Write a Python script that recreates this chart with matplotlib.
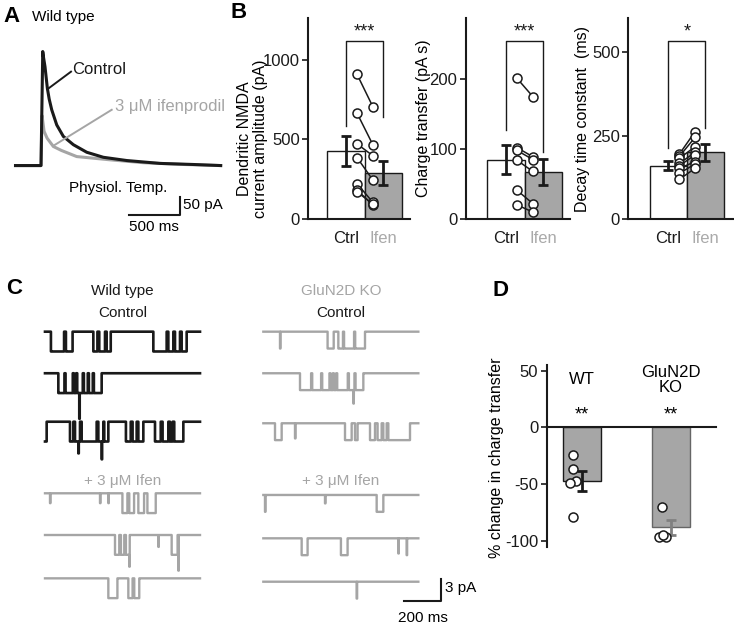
import numpy as np
import matplotlib
matplotlib.use("Agg")
import matplotlib.pyplot as plt

plt.rcParams['font.family'] = ['Liberation Sans', 'DejaVu Sans']
plt.rcParams['axes.unicode_minus'] = False

# ---------------- data ----------------
# Panel A: dendritic NMDA EPSCs (time ms, current pA)
a_ctrl_t = [-250, 0, 17, 25, 39, 62, 80, 105, 154, 219, 317, 448, 611, 840, 1166, 1493, 1761]
a_ctrl_i = [0, 0, 317, 300, 275, 215, 185, 155, 113, 81, 58, 37, 23, 14, 6, 3, 0]
a_ifen_t = [-250, 0, 10, 30, 60, 121, 200, 350, 676, 1000, 1400, 1761]
a_ifen_i = [0, 0, 139, 95, 76, 53, 42, 25, 16, 8, 3, 0]

# Panel B
b_groups = ['Ctrl', 'Ifen']
amp_mean = [428, 289]
amp_sem = [95, 78]
amp_ctrl = [909, 665, 472, 386, 222, 182, 170]
amp_ifen = [706, 467, 398, 245, 105, 88, 95]
q_mean = [85, 67]
q_sem = [21, 19]
q_ctrl = [201, 102, 98, 84, 41, 20]
q_ifen = [175, 89, 85, 68, 22, 10]
tau_mean = [160, 200]
tau_sem = [13, 25]
tau_ctrl = [195, 188, 182, 167, 160, 152, 137, 119]
tau_ifen = [262, 245, 217, 200, 192, 172, 165, 152]
b_stars = ['***', '***', '*']

# Panel C: single-channel records, open intervals (ms) and brief events (ms, level)
wt_ctrl_open = [
    [(32, 103), (113, 149), (261, 283), (293, 324), (333, 355), (585, 657), (666, 693), (702, 729), (738, 765)],
    [(72, 105), (111, 150), (156, 168), (174, 204), (210, 231), (237, 258), (264, 306)],
    [(0, 9), (135, 153), (162, 189), (198, 279), (288, 315), (320, 342), (437, 463), (473, 495),
     (504, 531), (594, 625), (635, 666), (675, 689), (698, 747)],
]
wt_ctrl_spk = [[], [(185, 2.3)], [(180, 1.6), (306, 1.9)]]
wt_ifen_open = [
    [(418, 445), (455, 481), (504, 535), (553, 598)],
    [(378, 401), (410, 428), (437, 455), (684, 716)],
    [(342, 391), (450, 473), (482, 509)],
]
wt_ifen_spk = [[(27, 0.5), (297, 0.5), (342, 0.5)], [(455, 1.6), (612, 0.6), (720, 1.8)], []]
ko_ctrl_open = [
    [(347, 380), (405, 430), (436, 490), (496, 549)],
    [(198, 258), (264, 312), (318, 357), (363, 375), (381, 393), (399, 456), (462, 492), (498, 540)],
    [(63, 99), (441, 477), (495, 509), (576, 603), (617, 639), (648, 666), (675, 792)],
]
ko_ctrl_spk = [[(90, 1.0)], [(486, 1.8)], [(171, 0.9)]]
ko_ifen_open = [[(612, 648)], [(207, 239), (419, 455)], []]
ko_ifen_spk = [[(9, 1.0), (333, 0.5)], [(729, 0.9), (774, 1.0)], [(504, 1.0)]]
rec_dur = 837
wt_unit = 2.7
ko_unit = 2.3

# Panel D
d_groups = ['WT', 'GluN2D\nKO']
d_mean = [-47, -88]
d_sem = [9, 6.5]
d_wt = [-24, -37, -47, -49, -79]
d_ko = [-70, -96.5, -96.5, -95]
d_stars = ['**', '**']

# ---------------- figure ----------------
W, H = 734, 626
fig = plt.figure(figsize=(W / 100, H / 100), dpi=100)

def px_axes(l, t, r, b):
    return fig.add_axes([l / W, 1 - b / H, (r - l) / W, (b - t) / H])

def ftext(x, y, s, **kw):
    fig.text(x / W, 1 - y / H, s, **kw)

BLACK = '#1a1a1a'
GRAY = '#a5a5a5'
BARGRAY = '#a6a6a6'

# panel letters
for (x, y, s) in [(3, 17, 'A'), (231, 12, 'B'), (6, 289, 'C'), (493, 290, 'D')]:
    ftext(x, y, s, fontsize=16, fontweight='bold', va='center', ha='left')

# ---------------- Panel A ----------------
axA = px_axes(10, 40, 232, 235)
axA.set_xlim(-304, 1872)
axA.set_ylim(-193, 349)
axA.axis('off')
axA.plot(a_ifen_t, a_ifen_i, color=GRAY, lw=2.2, solid_joinstyle='round')
axA.plot(a_ctrl_t, a_ctrl_i, color=BLACK, lw=2.2, solid_joinstyle='round')
axA.plot([62, 294], [212, 261], color=BLACK, lw=1.4)
axA.text(305, 266, 'Control', fontsize=12, va='center', ha='left', color=BLACK)
axA.plot([121, 693], [55, 155], color=GRAY, lw=1.4)
axA.text(725, 164, '3 \u03bcM ifenprodil', fontsize=12, va='center', ha='left', color=GRAY)
axA.plot([860, 1360, 1360], [-137, -137, -87], color=BLACK, lw=1.5, clip_on=False)
axA.text(1392, -110, '50 pA', fontsize=11, va='center', ha='left')
axA.text(1110, -172, '500 ms', fontsize=11, va='center', ha='center')
axA.text(755, -62, 'Physiol. Temp.', fontsize=11, va='center', ha='center')
ftext(32, 17, 'Wild type', fontsize=11, va='center', ha='left')

# ---------------- Panel B ----------------
def style_axes(ax):
    for s in ['top', 'right']:
        ax.spines[s].set_visible(False)
    for s in ['left', 'bottom']:
        ax.spines[s].set_linewidth(1.5)
        ax.spines[s].set_color(BLACK)
    ax.tick_params(axis='y', direction='out', length=4, width=1.2, labelsize=12, pad=2, colors=BLACK)

def bar_panel(ax, means, sems, ctrl, ifen, ylim, yticks, xlim, ylabel, lab_xy, star, br_top, br_legs):
    style_axes(ax)
    ax.set_xlim(*xlim)
    ax.set_ylim(*ylim)
    ax.set_yticks(yticks)
    ax.bar([0, 1], means, width=1.0, color=['white', BARGRAY], edgecolor=BLACK, linewidth=1.0, zorder=1)
    ax.errorbar([0, 1], means, yerr=sems, fmt='none', ecolor=BLACK, elinewidth=2, capsize=3.5,
                capthick=2, zorder=3)
    for c, i in zip(ctrl, ifen):
        ax.plot([0.3, 0.72], [c, i], color=BLACK, lw=1.1, marker='o', mfc='white', mec=BLACK,
                ms=6.5, mew=1.1, zorder=4)
    ax.set_xticks([0, 1])
    ax.set_xticklabels(b_groups, fontsize=12)
    ax.tick_params(axis='x', length=0, pad=9)
    ax.get_xticklabels()[0].set_color(BLACK)
    ax.get_xticklabels()[1].set_color('#aaaaaa')
    ax.set_ylabel(ylabel, fontsize=11.5, linespacing=1.1)
    ax.yaxis.set_label_coords(*lab_xy)
    ax.plot([0, 0, 1, 1], [br_legs[0], br_top, br_top, br_legs[1]], color=BLACK, lw=1.0, zorder=2)
    ax.text(0.5, br_top, star, ha='center', va='bottom', fontsize=13, color=BLACK)

axB1 = px_axes(308, 18.3, 410, 219)
bar_panel(axB1, amp_mean, amp_sem, amp_ctrl, amp_ifen, (0, 1262), [0, 500, 1000], (-1.008, 1.71),
          'Dendritic NMDA\ncurrent amplitude (pA)', (-0.39, 0.40), b_stars[0], 1121, (585, 643))
axB2 = px_axes(465.7, 18.3, 570, 219)
bar_panel(axB2, q_mean, q_sem, q_ctrl, q_ifen, (0, 287), [0, 100, 200], (-1.07, 1.71),
          'Charge transfer (pA s)', (-0.33, 0.5), b_stars[1], 255, (127, 96))
axB3 = px_axes(628.3, 18.3, 733, 219)
bar_panel(axB3, tau_mean, tau_sem, tau_ctrl, tau_ifen, (0, 602), [0, 250, 500], (-1.075, 1.74),
          'Decay time constant  (ms)', (-0.37, 0.5), b_stars[2], 534, (212, 272))

# ---------------- Panel C ----------------
axC = px_axes(40, 275, 450, 615)
axC.set_xlim(-27, 2187)
axC.set_ylim(-38.64, 7.73)
axC.axis('off')

def build_trace(opens, spikes, dur, dt=0.5):
    t = np.arange(0, dur + dt, dt)
    lev = np.zeros_like(t)
    for s, e in opens:
        lev[(t >= s) & (t < e)] = 1.0
    for ts, d in spikes:
        lev[(t >= ts) & (t < ts + 2.5)] = d
    return t, lev

row_base_wt = [0, -5.67, -12.28, -22.04, -27.73, -33.64]
row_base_ko = [0, -5.67, -12.49, -22.27, -28.18, -34.1]
ko_x0 = 1179

groups = [
    (wt_ctrl_open + wt_ifen_open, wt_ctrl_spk + wt_ifen_spk, 0, row_base_wt, wt_unit,
     [BLACK] * 3 + [GRAY] * 3),
    (ko_ctrl_open + ko_ifen_open, ko_ctrl_spk + ko_ifen_spk, ko_x0, row_base_ko, ko_unit, [GRAY] * 6),
]
for opens_l, spk_l, x0, bases, unit, cols in groups:
    for k in range(6):
        t, lev = build_trace(opens_l[k], spk_l[k], rec_dur)
        axC.plot(t + x0, bases[k] - unit * lev, color=cols[k], lw=1.9 if cols[k] == BLACK else 1.7,
                 drawstyle='steps-post')

# scale bar
axC.plot([1940, 2140, 2140], [-36.7, -36.7, -33.7], color=BLACK, lw=1.5, clip_on=False)
axC.text(2162, -35.0, '3 pA', fontsize=11, va='center', ha='left')
axC.text(2040, -39.0, '200 ms', fontsize=11, va='center', ha='center')

ftext(122.5, 291, 'Wild type', fontsize=11, ha='center', va='center', color=BLACK)
ftext(122.5, 313, 'Control', fontsize=11, ha='center', va='center', color=BLACK)
ftext(341, 291, 'GluN2D KO', fontsize=11, ha='center', va='center', color=GRAY)
ftext(341, 313, 'Control', fontsize=11, ha='center', va='center', color=BLACK)
ftext(122.5, 481, '+ 3 \u03bcM Ifen', fontsize=11, ha='center', va='center', color=GRAY)
ftext(341, 481, '+ 3 \u03bcM Ifen', fontsize=11, ha='center', va='center', color=GRAY)

# ---------------- Panel D ----------------
axD = px_axes(546.7, 365, 716, 546.7)
style_axes(axD)
axD.set_ylim(-105, 55)
axD.set_xlim(-0.397, 1.506)
axD.set_yticks([50, 0, -50, -100])
axD.spines['bottom'].set_position(('data', 0))
axD.tick_params(axis='x', length=0, labelbottom=False)
axD.bar([0, 1], d_mean, width=0.42, color=BARGRAY, edgecolor=[BLACK, '#666666'], linewidth=1.0, zorder=1)
axD.errorbar([0], [d_mean[0]], yerr=[d_sem[0]], fmt='none', ecolor=BLACK, elinewidth=2, capsize=3.5,
             capthick=2, zorder=3)
axD.errorbar([1], [d_mean[1]], yerr=[d_sem[1]], fmt='none', ecolor='#808080', elinewidth=2, capsize=3.5,
             capthick=2, zorder=3)
wt_dx = [-0.1, -0.105, -0.067, -0.135, -0.1]
ko_dx = [-0.105, -0.135, -0.06, -0.087]
axD.plot([0 + d for d in wt_dx], d_wt, 'o', mfc='white', mec=BLACK, ms=6.5, mew=1.1, zorder=4, clip_on=False)
axD.plot([1 + d for d in ko_dx], d_ko, 'o', mfc='white', mec=BLACK, ms=6.5, mew=1.1, zorder=4, clip_on=False)
for i, (g, s) in enumerate(zip(d_groups, d_stars)):
    axD.text(i, 42, g, ha='center', va='center', fontsize=12, linespacing=1.0)
    axD.text(i, 11, s, ha='center', va='center', fontsize=13)
axD.set_ylabel('% change in charge transfer', fontsize=11.5)
axD.yaxis.set_label_coords(-0.25, 0.49)

fig.savefig('out.png', dpi=100)
